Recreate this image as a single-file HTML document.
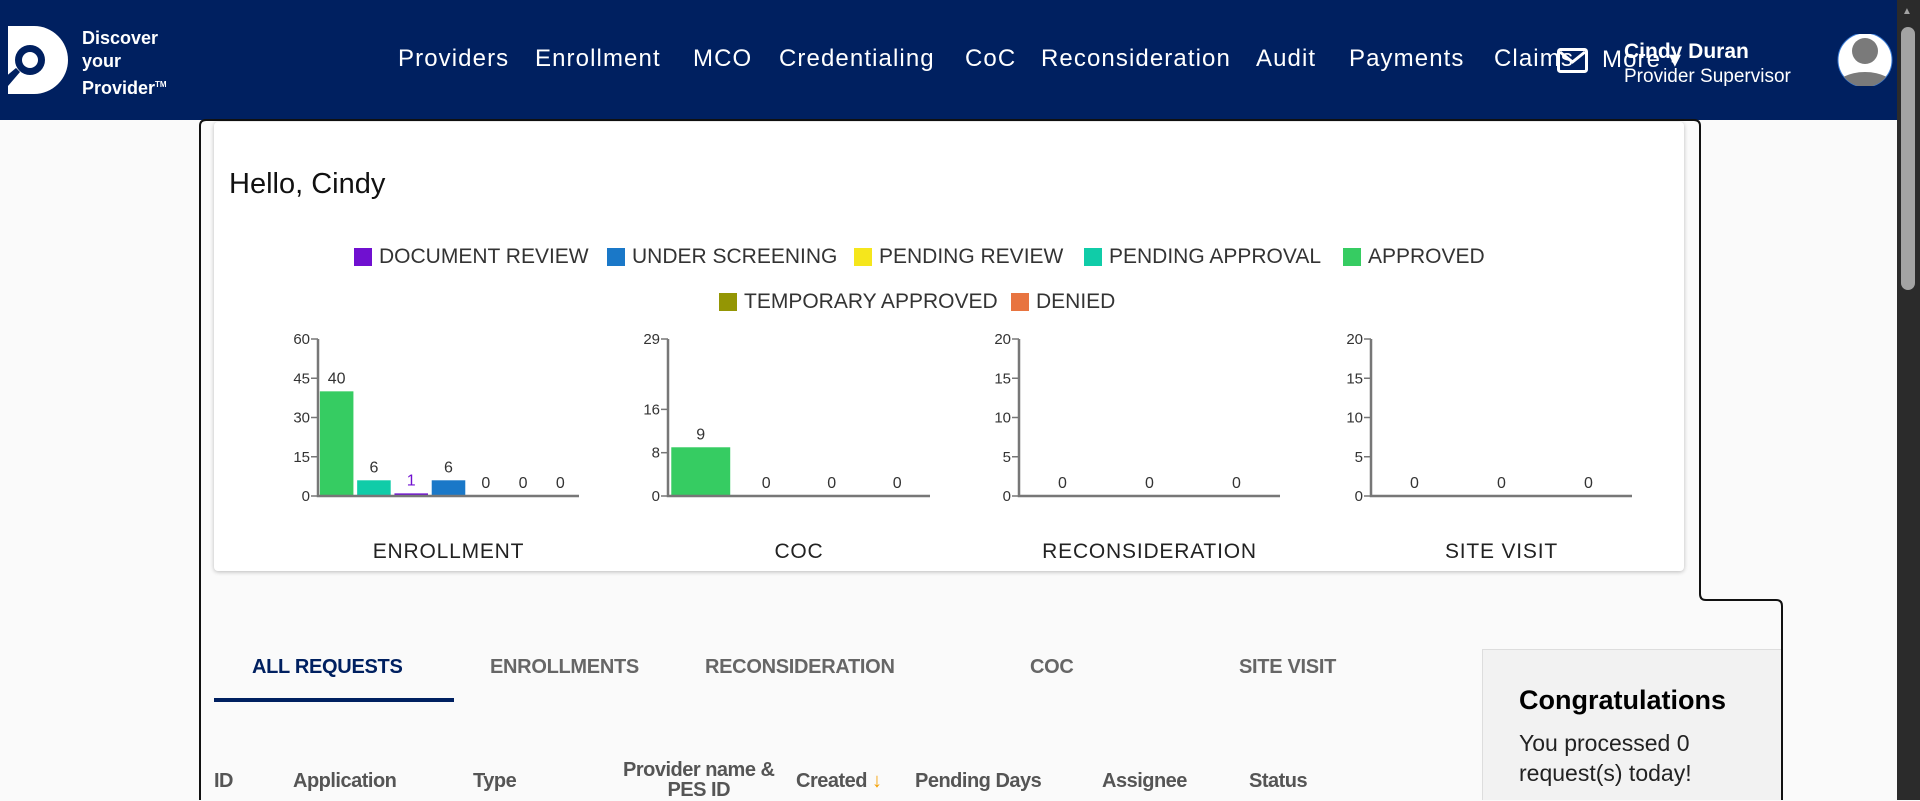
<!DOCTYPE html>
<html><head><meta charset="utf-8"><style>
*{box-sizing:border-box;margin:0;padding:0}
body{width:1920px;height:800px;overflow:hidden;background:#fafafa;font-family:"Liberation Sans",sans-serif;position:relative}
.abs{position:absolute;white-space:nowrap}
#hdr{position:absolute;left:0;top:0;width:1897px;height:120px;background:#002060}
.nav{position:absolute;top:45px;color:#fff;font-size:24px;letter-spacing:1.1px}
.leg{position:absolute;font-size:21px;color:#333;display:flex;align-items:center}
.leg i{display:inline-block;width:18px;height:18px;margin-right:7px}
.tab{position:absolute;top:656px;font-size:20px;font-weight:bold;color:#666;letter-spacing:-0.3px}
.th{position:absolute;font-size:20px;font-weight:bold;color:#555;letter-spacing:-0.5px}
</style></head><body>
<div id="hdr">
 <svg class="abs" style="left:4px;top:26px" width="66" height="68">
  <path d="M4 0 H30 A34 34 0 0 1 30 68 H4 Z" fill="#fff"/>
  <circle cx="26" cy="34" r="15" fill="#002060"/><circle cx="26" cy="34" r="8" fill="#fff"/>
  <path d="M0 52 L12 42 L16 46 L4 60 Z" fill="#002060"/>
 </svg>
 <div class="abs" style="left:82px;top:27px;color:#fff;font-size:18px;font-weight:bold;line-height:23px">Discover<br>your<br>Provider<sup style="font-size:8px">TM</sup></div>
 <span class="nav" style="left:398px">Providers</span>
 <span class="nav" style="left:535px">Enrollment</span>
 <span class="nav" style="left:693px">MCO</span>
 <span class="nav" style="left:779px">Credentialing</span>
 <span class="nav" style="left:965px">CoC</span>
 <span class="nav" style="left:1041px">Reconsideration</span>
 <span class="nav" style="left:1256px">Audit</span>
 <span class="nav" style="left:1349px">Payments</span>
 <span class="nav" style="left:1494px">Claims</span>
 <span class="nav" style="left:1602px">More ▾</span>
 <svg class="abs" style="left:1557px;top:48px" width="31" height="25"><rect x="1.5" y="1.5" width="28" height="22" rx="2" fill="none" stroke="#fff" stroke-width="3"/><path d="M3 4 L15.5 14 L28 4" fill="none" stroke="#fff" stroke-width="3"/></svg>
 <div class="abs" style="left:1624px;top:40px;color:#fff;font-size:21px;font-weight:bold">Cindy Duran</div>
 <div class="abs" style="left:1624px;top:66px;color:#fff;font-size:19px">Provider Supervisor</div>
 <svg class="abs" style="left:1836px;top:34px" width="58" height="52"><defs><clipPath id="cp"><circle cx="29" cy="26" r="27"/></clipPath></defs><circle cx="29" cy="26" r="27" fill="#fff" stroke="#3a7bd5"/><g clip-path="url(#cp)" fill="#7a7a7a"><circle cx="29" cy="17" r="13"/><ellipse cx="29" cy="54" rx="30" ry="16"/></g></svg>
</div>
<div class="abs" style="left:1897px;top:0;width:23px;height:800px;background:#2b2b2b"><div class="abs" style="left:4px;top:27px;width:14px;height:263px;border-radius:7px;background:#a3a3a3"></div><div class="abs" style="left:5px;top:6px;color:#a3a3a3;font-size:10px">▲</div></div>

<svg class="abs" style="left:0;top:0" width="1897" height="800"><path d="M200 800 V126 Q200 120 206 120 H1694 Q1700 120 1700 126 V594 Q1700 600 1706 600 H1776 Q1782 600 1782 606 V800" fill="none" stroke="#111" stroke-width="2"/></svg>

<div class="abs" style="left:214px;top:122px;width:1470px;height:449px;background:#fff;border-radius:4px;box-shadow:0 1px 4px rgba(0,0,0,0.25)"></div>
<div class="abs" style="left:229px;top:168px;font-size:29px;color:#111">Hello, Cindy</div>

<div class="leg" style="left:354px;top:245px"><i style="background:#7010d0"></i>DOCUMENT REVIEW</div>
<div class="leg" style="left:607px;top:245px"><i style="background:#1a78c8"></i>UNDER SCREENING</div>
<div class="leg" style="left:854px;top:245px"><i style="background:#f5e61c"></i>PENDING REVIEW</div>
<div class="leg" style="left:1084px;top:245px"><i style="background:#10cca8"></i>PENDING APPROVAL</div>
<div class="leg" style="left:1343px;top:245px"><i style="background:#36cc62"></i>APPROVED</div>
<div class="leg" style="left:719px;top:290px"><i style="background:#949604"></i>TEMPORARY APPROVED</div>
<div class="leg" style="left:1011px;top:290px"><i style="background:#e87440"></i>DENIED</div>

<svg id="charts" class="abs" style="left:0;top:0" width="1897" height="600"></svg>

<div class="tab" style="left:252px;color:#002060">ALL REQUESTS</div>
<div class="tab" style="left:490px">ENROLLMENTS</div>
<div class="tab" style="left:705px">RECONSIDERATION</div>
<div class="tab" style="left:1030px">COC</div>
<div class="tab" style="left:1239px">SITE VISIT</div>
<div class="abs" style="left:214px;top:698px;width:240px;height:4px;background:#002060"></div>

<div class="th" style="left:214px;top:770px">ID</div>
<div class="th" style="left:293px;top:770px">Application</div>
<div class="th" style="left:473px;top:770px">Type</div>
<div class="th" style="left:623px;top:760px;text-align:center;line-height:20px">Provider name &amp;<br>PES ID</div>
<div class="th" style="left:796px;top:770px">Created <span style="color:#f5a000">↓</span></div>
<div class="th" style="left:915px;top:770px">Pending Days</div>
<div class="th" style="left:1102px;top:770px">Assignee</div>
<div class="th" style="left:1249px;top:770px">Status</div>

<div class="abs" style="left:1482px;top:649px;width:299px;height:151px;background:#f2f2f2;border-left:1px solid #ddd;border-top:1px solid #ddd">
 <div class="abs" style="left:36px;top:35px;font-size:27px;font-weight:bold;color:#000">Congratulations</div>
 <div class="abs" style="left:36px;top:78px;font-size:23px;color:#222;line-height:30px">You processed 0<br>request(s) today!</div>
</div>

<script>
const colors = {DR:'#7010d0',US:'#1a78c8',PR:'#f5e61c',PA:'#10cca8',AP:'#36cc62',TA:'#949604',DN:'#e87440'};
const enrollSeries = ['AP','PA','DR','US','PR','TA','DN'];
const enrollValues = [40,6,1,6,0,0,0];
const enrollTicks = [0,15,30,45,60];
const cocSeries = ['AP','PA','US','DN'];
const cocValues = [9,0,0,0];
const cocTicks = [0,8,16,29];
const reconSeries = ['AP','PA','DN'];
const reconValues = [0,0,0];
const reconTicks = [0,5,10,15,20];
const siteSeries = ['AP','PA','DN'];
const siteValues = [0,0,0];
const siteTicks = [0,5,10,15,20];
const chartTitles = ['ENROLLMENT','COC','RECONSIDERATION','SITE VISIT'];

const svg = document.getElementById('charts');
const NS = 'http://www.w3.org/2000/svg';
function mk(tag, attrs, parent){const e=document.createElementNS(NS,tag);for(const k in attrs)e.setAttribute(k,attrs[k]);(parent||svg).appendChild(e);return e;}
const Y0=496, Y1=339;
function drawChart(x0,x1,series,values,ticks,title,idx){
  const g=mk('g',{});
  
  
  const max=ticks[ticks.length-1];
  const y=v=>Y0-(v/max)*(Y0-Y1);
  const band=(x1-x0)/values.length;
  const xc=i=>x0+band*(i+0.5);
  ticks.forEach(t=>{
    const ln=mk('line',{x1:x0-7,x2:x0,y1:y(t),y2:y(t),stroke:'#777','stroke-width':1.5},g);
    
    
    const tx=mk('text',{x:x0-8,y:y(t)+5,'text-anchor':'end','font-size':15,fill:'#333'},g);
    tx.textContent=t;
    
    
  });
  values.forEach((v,i)=>{
    const bw=band*0.9;
    const h=Y0-y(v);
    if(v>0){
      const r=mk('rect',{x:xc(i)-bw/2,y:y(v),width:bw,height:h,fill:colors[series[i]]},g);
      
      
    }
    const lab=mk('text',{x:xc(i),y:y(v)-8,'text-anchor':'middle','font-size':16,fill:v===1?colors.DR:'#333'},g);
    lab.textContent=v;
    
    
  });
  const ax=mk('path',{d:`M${x0} ${Y1} V${Y0} H${x1}`,fill:'none',stroke:'#777','stroke-width':2.5},g);
  
  
  const tt=mk('text',{x:(x0+x1)/2,y:558,'text-anchor':'middle','font-size':21,fill:'#222','letter-spacing':'0.8'},g);
  tt.textContent=title;
  
  
}
drawChart(318,579,enrollSeries,enrollValues,enrollTicks,chartTitles[0],0);
drawChart(668,930,cocSeries,cocValues,cocTicks,chartTitles[1],1);
drawChart(1019,1280,reconSeries,reconValues,reconTicks,chartTitles[2],2);
drawChart(1371,1632,siteSeries,siteValues,siteTicks,chartTitles[3],3);
</script>
</body></html>
